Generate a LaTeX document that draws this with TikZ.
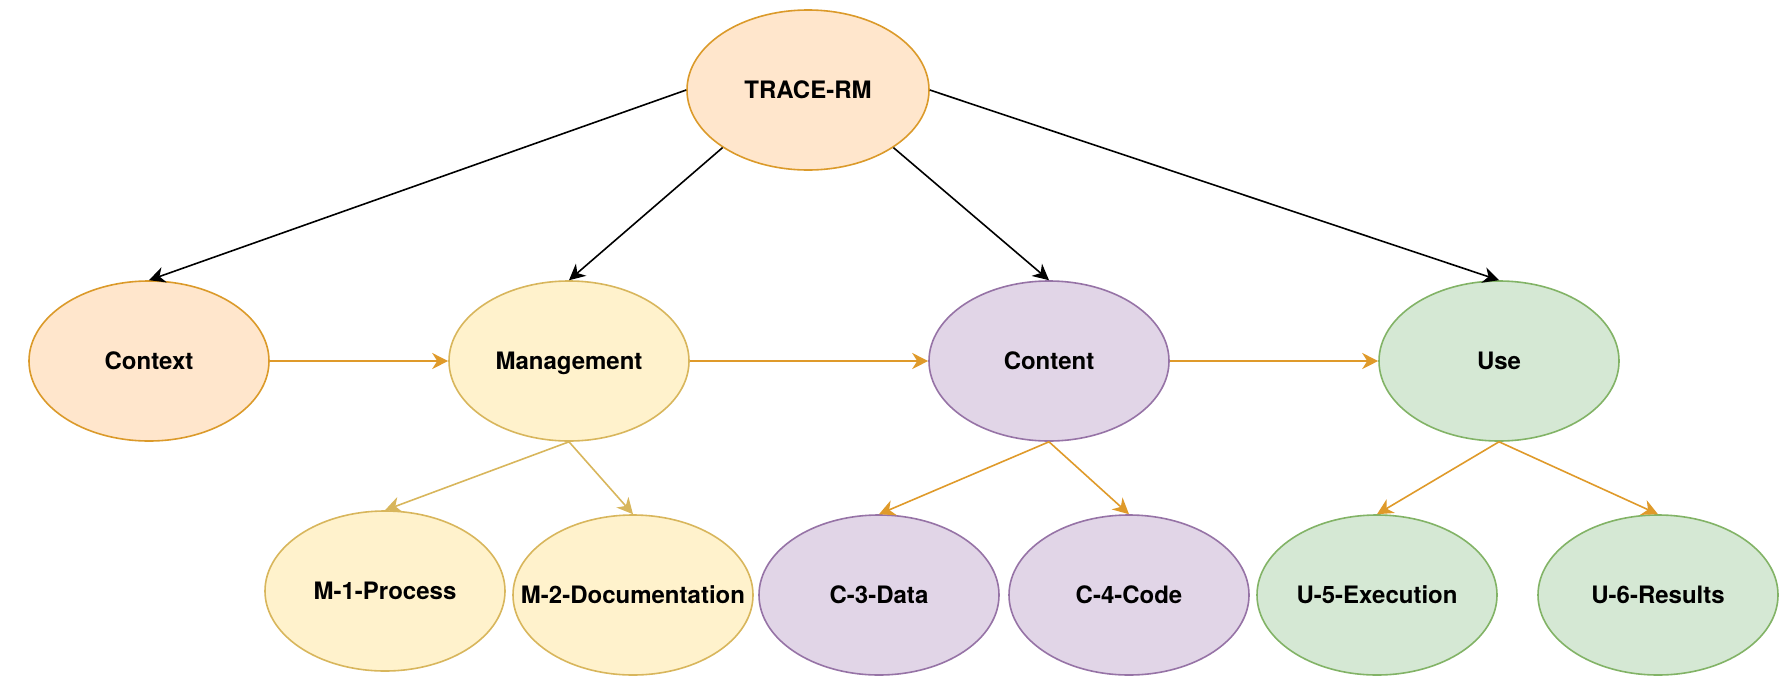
\documentclass[tikz,border=0pt]{standalone}
\usepackage{fontspec}
\setmainfont{TeX Gyre Heros}
\usetikzlibrary{shapes.geometric,arrows.meta}
\definecolor{orfill}{HTML}{FFE6CC}
\definecolor{ordraw}{HTML}{DB9A2A}
\definecolor{yefill}{HTML}{FFF2CC}
\definecolor{yedraw}{HTML}{D8B65C}
\definecolor{pufill}{HTML}{E1D5E7}
\definecolor{pudraw}{HTML}{9673A6}
\definecolor{grfill}{HTML}{D5E8D4}
\definecolor{grdraw}{HTML}{82B366}
\definecolor{edgeor}{HTML}{DF9A2A}
\definecolor{edgeye}{HTML}{D8B65C}
\newcommand{\nt}[1]{\makebox[0pt][c]{\raisebox{0pt}[0.72em][0pt]{#1}}}
\begin{document}
\begin{tikzpicture}[x=0.5pt,y=-0.5pt,
  ell/.style={ellipse, inner sep=0pt, line width=0.8pt, minimum height=80pt,
    minimum width=120pt, font=\bfseries\fontsize{12}{14}\selectfont},
  orn/.style={ell, fill=orfill, draw=ordraw},
  yen/.style={ell, fill=yefill, draw=yedraw},
  pun/.style={ell, fill=pufill, draw=pudraw},
  grn/.style={ell, fill=grfill, draw=grdraw},
  tipa/.style={-{Stealth[length=8pt,width=8pt,inset=2.5pt]}},
  blk/.style={tipa, draw=black, line width=0.8pt},
  ora/.style={tipa, draw=edgeor, fill=edgeor, line width=0.8pt},
  yel/.style={tipa, draw=edgeye, fill=edgeye, line width=0.8pt}]
\useasboundingbox (0,0) rectangle (1788,686);
\node[orn, minimum width=121pt] (T) at (808,90) {\nt{TRACE-RM}};
\node[orn] (ctx) at (149,361) {\nt{Context}};
\node[yen] (mgmt) at (569,361) {\nt{Management}};
\node[pun] (cont) at (1049,361) {\nt{Content}};
\node[grn] (use) at (1499,361) {\nt{Use}};
\node[yen] (m1) at (385,591) {\nt{M-1-Process}};
\node[yen] (m2) at (633,595) {\nt{M-2-Documentation}};
\node[pun] (c3) at (879,595) {\nt{C-3-Data}};
\node[pun] (c4) at (1129,595) {\nt{C-4-Code}};
\node[grn] (u5) at (1377,595) {\nt{U-5-Execution}};
\node[grn] (u6) at (1658,595) {\nt{U-6-Results}};
\draw[blk] (T.180) -- (ctx.north);
\draw[blk] (T.214) -- (mgmt.north);
\draw[blk] (T.326) -- (cont.north);
\draw[blk] (T.0) -- (use.north);
\draw[ora] (ctx) -- (mgmt);
\draw[ora] (mgmt) -- (cont);
\draw[ora] (cont) -- (use);
\draw[yel] (mgmt.south) -- (m1.north);
\draw[yel] (mgmt.south) -- (m2.north);
\draw[ora] (cont.south) -- (c3.north);
\draw[ora] (cont.south) -- (c4.north);
\draw[ora] (use.south) -- (u5.north);
\draw[ora] (use.south) -- (u6.north);
\end{tikzpicture}
\end{document}
